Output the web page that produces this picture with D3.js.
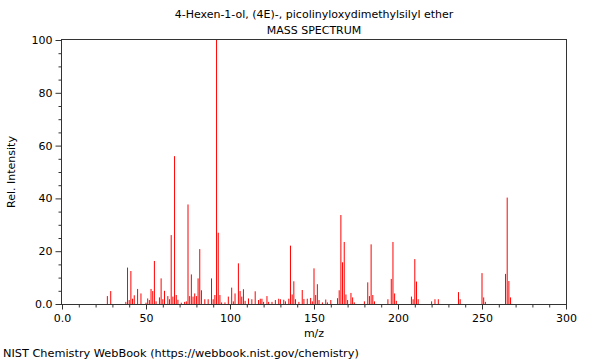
<!DOCTYPE html>
<html>
<head>
<meta charset="utf-8">
<script src="https://cdn.jsdelivr.net/npm/d3@7"></script>
<style>
  html, body { margin: 0; padding: 0; background: #fff; }
  svg { display: block; font-family: "DejaVu Sans", sans-serif; }
</style>
</head>
<body>
<svg id="chart" width="600" height="360"></svg>
<script>
const title = "4-Hexen-1-ol, (4E)-, picolinyloxydimethylsilyl ether";
const subtitle = "MASS SPECTRUM";
const xLabel = "m/z";
const yLabel = "Rel. Intensity";
const footer = "NIST Chemistry WebBook (https://webbook.nist.gov/chemistry)";

const mz = [27, 29, 38, 39, 40, 41, 42, 43, 45, 47, 50, 51, 52, 53, 54, 55, 56, 58, 59, 60,
  61, 63, 64, 65, 66, 67, 68, 69, 71, 73, 74, 75, 76, 77, 78, 79, 80, 81, 82, 83,
  85, 87, 89, 90, 91, 92, 93, 94, 95, 97, 99, 101, 102, 103, 105, 106, 107, 108, 109, 111,
  113, 115, 117, 118, 119, 120, 122, 123, 125, 127, 129, 130, 132, 133, 135, 136, 137, 138, 139, 141,
  143, 144, 146, 148, 149, 150, 151, 152, 153, 155, 157, 158, 160, 164, 165, 166, 167, 168, 169, 170,
  172, 173, 174, 180, 182, 183, 184, 185, 186, 194, 196, 197, 198, 199, 208, 209, 210, 211, 212, 220,
  222, 224, 236, 237, 250, 251, 252, 264, 265, 266, 267];
const intensity = [3.0, 4.9, 0.8, 13.8, 1.5, 12.5, 2.0, 3.3, 5.7, 4.0, 0.5, 2.1, 1.5, 5.7, 4.9, 16.3, 1.0, 2.5, 9.7, 1.8,
  5.0, 3.0, 1.8, 26.1, 2.8, 56.0, 3.4, 1.6, 0.5, 0.8, 1.0, 37.7, 3.0, 11.2, 2.8, 4.0, 3.0, 9.7, 20.8, 5.2,
  1.8, 1.8, 9.7, 1.8, 3.4, 100, 27.0, 3.4, 0.6, 0.6, 2.8, 6.2, 1.0, 4.0, 15.4, 4.9, 2.8, 5.6, 1.2, 2.1,
  1.8, 4.8, 1.5, 2.0, 2.0, 0.8, 3.0, 0.8, 0.8, 1.5, 2.0, 1.8, 1.6, 1.0, 2.0, 22.1, 3.6, 8.6, 1.8, 0.8,
  5.3, 1.9, 2.0, 2.3, 1.0, 13.5, 3.4, 7.5, 1.5, 0.6, 1.7, 0.6, 1.5, 2.2, 5.2, 33.7, 15.8, 23.5, 3.6, 1.5,
  4.2, 2.5, 0.6, 1.0, 8.2, 3.0, 22.6, 3.4, 1.0, 1.8, 9.5, 23.5, 4.0, 1.2, 2.8, 1.8, 17.0, 8.5, 1.8, 1.0,
  1.8, 1.8, 4.5, 1.8, 11.7, 2.5, 0.8, 11.4, 40.3, 8.7, 2.5];

const xMajorTicks = [0, 50, 100, 150, 200, 250, 300];
const xTickLabels = ["0.0", "50", "100", "150", "200", "250", "300"];
const yMajorTicks = [0, 20, 40, 60, 80, 100];
const yTickLabels = ["0.0", "20", "40", "60", "80", "100"];

const svg = d3.select("#chart");
const mLeft = 62, mRight = 566, mTop = 40, mBottom = 304;

const x = d3.scaleLinear().domain([0, 300]).range([mLeft, mRight]);
const y = d3.scaleLinear().domain([0, 100]).range([mBottom, mTop]);

// peaks
svg.append("g").selectAll("line").data(mz.map((m, i) => ({m, v: intensity[i]})))
  .enter().append("line")
  .attr("x1", d => x(d.m)).attr("x2", d => x(d.m))
  .attr("y1", y(0)).attr("y2", d => y(d.v))
  .attr("stroke", "#ff0000").attr("stroke-width", 1);

const axisColor = "#333";
// x axis
const xAxis = d3.axisBottom(x).tickValues(xMajorTicks).tickSize(5).tickPadding(5)
  .tickFormat((d, i) => xTickLabels[i]);
const gx = svg.append("g").attr("transform", `translate(0,${mBottom + 0.5})`).call(xAxis);
const xMinor = d3.axisBottom(x).tickValues(d3.range(0, 301, 10).filter(v => v % 50 !== 0)).tickSize(3).tickFormat("");
const gxm = svg.append("g").attr("transform", `translate(0,${mBottom + 0.5})`).call(xMinor);

// y axis
const yAxis = d3.axisLeft(y).tickValues(yMajorTicks).tickSize(6).tickPadding(3)
  .tickFormat((d, i) => yTickLabels[i]);
const gy = svg.append("g").attr("transform", `translate(${mLeft - 0.5},0)`).call(yAxis);
const yMinor = d3.axisLeft(y).tickValues(d3.range(0, 101, 5).filter(v => v % 20 !== 0)).tickSize(3).tickFormat("");
const gym = svg.append("g").attr("transform", `translate(${mLeft - 0.5},0)`).call(yMinor);

[gx, gxm, gy, gym].forEach(g => {
  g.select(".domain").remove();
  g.selectAll("line").attr("stroke", axisColor);
  g.selectAll("text").attr("fill", "#000").style("font-size", "11px").style("font-family", "DejaVu Sans, sans-serif");
});

// frame
svg.append("rect")
  .attr("x", mLeft - 0.5).attr("y", mTop - 0.5)
  .attr("width", mRight - mLeft + 1).attr("height", mBottom - mTop + 1)
  .attr("fill", "none").attr("stroke", axisColor).attr("stroke-width", 1);

// texts
const mid = (mLeft + mRight) / 2;
svg.append("text").attr("x", mid).attr("y", 18).attr("text-anchor", "middle")
  .style("font-size", "11px").text(title);
svg.append("text").attr("x", mid).attr("y", 34).attr("text-anchor", "middle")
  .style("font-size", "11px").text(subtitle);
svg.append("text").attr("x", mid).attr("y", 337).attr("text-anchor", "middle")
  .style("font-size", "11px").text(xLabel);
svg.append("text").attr("transform", `translate(15,${(mTop + mBottom) / 2}) rotate(-90)`)
  .attr("text-anchor", "middle").style("font-size", "11px").text(yLabel);
svg.append("text").attr("x", 3).attr("y", 357).style("font-size", "11.3px").text(footer);
</script>
</body>
</html>
